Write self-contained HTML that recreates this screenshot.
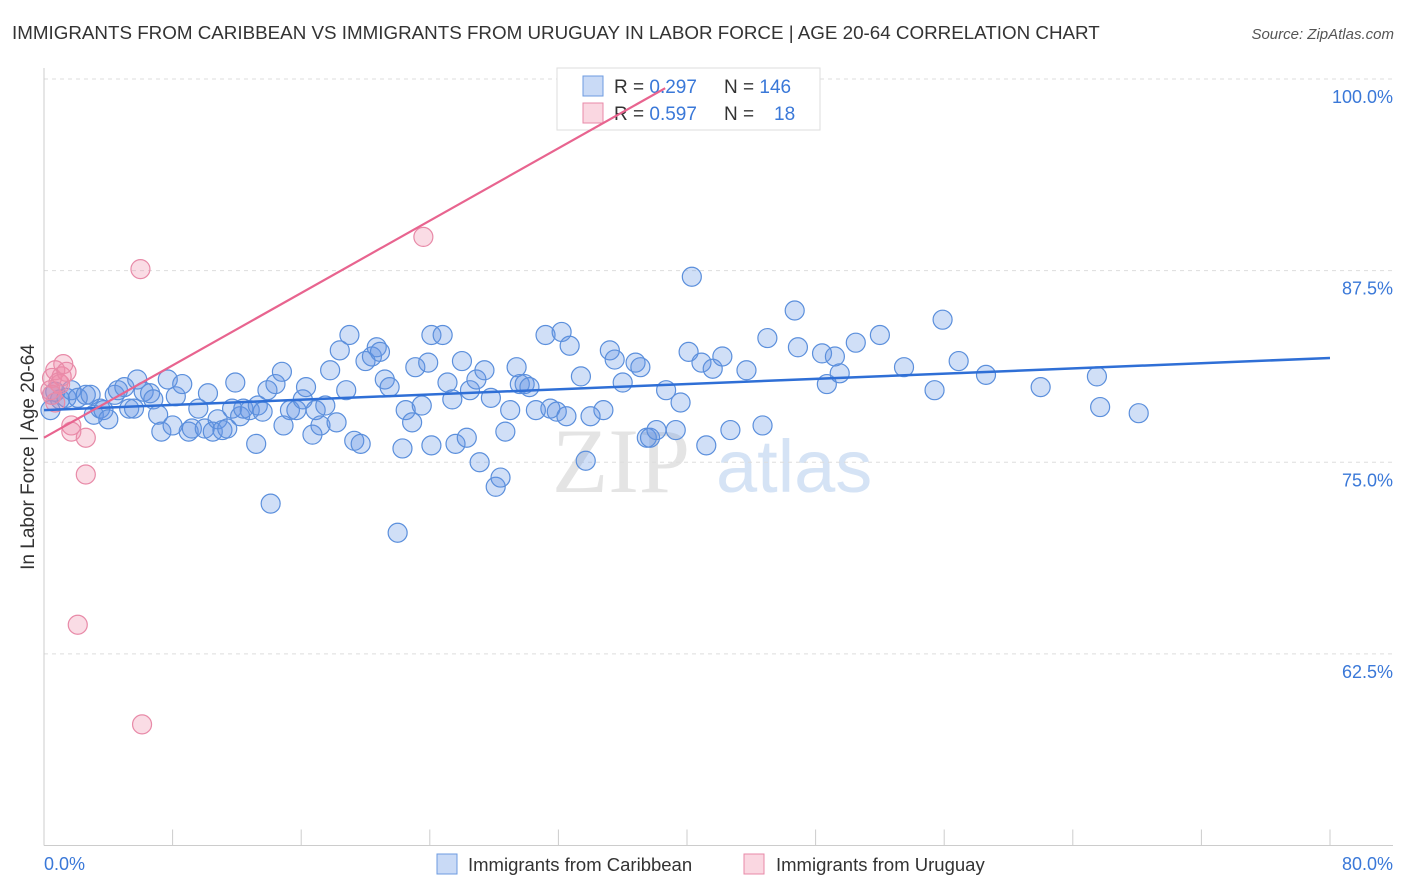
<!DOCTYPE html>
<html><head><meta charset="utf-8">
<style>
body{margin:0;background:#fff;font-family:"Liberation Sans",sans-serif;}
#wrap{position:relative;width:1406px;height:892px;overflow:hidden;}
</style></head>
<body>
<div id="wrap">
<svg id="svg" width="1406" height="892" xmlns="http://www.w3.org/2000/svg">
<text x="12" y="39" font-size="18.8" fill="#333">IMMIGRANTS FROM CARIBBEAN VS IMMIGRANTS FROM URUGUAY IN LABOR FORCE | AGE 20-64 CORRELATION CHART</text>
<text x="1394" y="39" font-size="15" fill="#555" font-style="italic" text-anchor="end">Source: ZipAtlas.com</text>
<g>
<text x="552" y="492" font-size="92" font-family="Liberation Serif,serif" fill="#e4e4e4">ZIP</text>
<text x="716" y="492" font-size="74" fill="#d5e3f5">atlas</text>
</g>
<g id="grid"></g>
<g id="axes"></g>
<g>
<rect x="557" y="68" width="263" height="62" fill="#fff" stroke="#ddd"/>
<rect x="583" y="76" width="20" height="20" fill="rgba(100,150,230,0.35)" stroke="#6d9be0"/>
<rect x="583" y="103" width="20" height="20" fill="rgba(240,140,170,0.35)" stroke="#e88aa8"/>
<text x="614" y="93" font-size="19" fill="#333">R = <tspan fill="#3a78d8">0.297</tspan></text>
<text x="724" y="93" font-size="19" fill="#333">N = <tspan fill="#3a78d8">146</tspan></text>
<text x="614" y="120" font-size="19" fill="#333">R = <tspan fill="#3a78d8">0.597</tspan></text>
<text x="724" y="120" font-size="19" fill="#333">N = <tspan x="774" fill="#3a78d8">18</tspan></text>
</g>
<g id="blue"></g>
<g id="pink"></g>
<g id="trends"></g>
<text transform="translate(34,457) rotate(-90)" font-size="19" fill="#333" text-anchor="middle">In Labor Force | Age 20-64</text>
<g>
<rect x="437" y="854" width="20" height="20" fill="rgba(100,150,230,0.35)" stroke="#6d9be0"/>
<text x="468" y="871" font-size="18.5" fill="#333">Immigrants from Caribbean</text>
<rect x="744" y="854" width="20" height="20" fill="rgba(240,140,170,0.35)" stroke="#e88aa8"/>
<text x="776" y="871" font-size="18.5" fill="#333">Immigrants from Uruguay</text>
</g>
</svg>
</div>
<script>
const blueX=[0.4,0.5,0.7,1.0,1.4,1.7,2.1,2.6,2.9,3.1,3.5,3.7,4.0,4.4,4.6,5.0,5.3,5.6,5.8,6.2,6.6,6.8,7.1,7.3,7.7,8.0,8.2,8.6,9.0,9.2,9.6,10.0,10.2,10.5,10.8,11.1,11.4,11.7,11.9,12.2,12.4,12.8,13.2,13.3,13.6,13.9,14.1,14.4,14.8,14.9,15.3,15.7,16.1,16.3,16.7,16.9,17.2,17.5,17.8,18.2,18.4,18.8,19.0,19.3,19.7,20.0,20.4,20.7,20.9,21.2,21.5,22.0,22.3,22.5,22.9,23.1,23.5,23.9,24.1,24.1,24.8,25.1,25.4,25.6,26.0,26.3,26.5,26.9,27.1,27.4,27.8,28.1,28.4,28.7,29.0,29.4,29.6,29.9,30.2,30.6,31.2,31.5,31.9,32.2,32.5,32.7,33.4,33.7,34.0,34.8,35.2,35.5,36.0,36.8,37.1,37.5,37.7,38.1,38.7,39.3,39.6,40.1,40.3,40.9,41.2,41.6,42.2,42.7,43.7,44.7,45.0,46.7,46.9,48.4,48.7,49.2,49.5,50.5,52.0,53.5,55.4,55.9,56.9,58.6,62.0,65.5,65.7,68.1];
const blueY=[78.4,79.4,79.6,79.1,79.2,79.7,79.2,79.4,79.4,78.1,78.5,78.4,77.8,79.4,79.7,79.9,78.5,78.5,80.4,79.6,79.5,79.1,78.1,77.0,80.4,77.4,79.3,80.1,77.0,77.2,78.5,77.2,79.5,77.0,77.8,77.1,77.2,78.5,80.2,78.0,78.5,78.4,76.2,78.7,78.3,79.7,72.3,80.1,80.9,77.4,78.4,78.4,79.1,79.9,76.8,78.4,77.4,78.7,81.0,77.6,82.3,79.7,83.3,76.4,76.2,81.6,81.9,82.5,82.2,80.4,79.9,70.4,75.9,78.4,77.6,81.2,78.7,81.5,83.3,76.1,83.3,80.2,79.1,76.2,81.6,76.6,79.7,80.4,75.0,81.0,79.2,73.4,74.0,77.0,78.4,81.2,80.1,80.1,79.9,78.4,83.3,78.5,78.3,83.5,78.0,82.6,80.6,75.1,78.0,78.4,82.3,81.7,80.2,81.5,81.2,76.6,76.6,77.1,79.7,77.1,78.9,82.2,87.1,81.5,76.1,81.1,81.9,77.1,81.0,77.4,83.1,84.9,82.5,82.1,80.1,81.9,80.8,82.8,83.3,81.2,79.7,84.3,81.6,80.7,79.9,80.6,78.6,78.2];
const pinkX=[0.5,0.7,0.9,1.0,1.1,1.2,1.4,1.7,1.7,2.1,2.6,2.6,6.0,6.1,23.6,0.5,0.4,0.7];
const pinkY=[80.5,81.0,80.2,80.1,80.6,81.4,80.9,77.4,77.0,64.4,76.6,74.2,87.6,57.9,89.7,79.4,79.7,78.9];
// trend line [intercept, slope]
const blueTrend=[78.4,0.0425];
const pinkTrend=[76.6,0.59];
const yTicks=[100,87.5,75,62.5];
const yTickLabels=["100.0%","87.5%","75.0%","62.5%"];
const xTicks=[0,8,16,24,32,40,48,56,64,72,80];
const xEndLabels=["0.0%","80.0%"];

const NS="http://www.w3.org/2000/svg";
const X0=44,X1=1330,XMAX=80,YTOP=79,YPX=15.33,YMIN=50,YCLIP=99.4;
function sx(v){return X0+v*(X1-X0)/XMAX;}
function sy(v){return YTOP+(100-v)*YPX;}
function mk(tag,attrs,parent){const e=document.createElementNS(NS,tag);for(const k in attrs)e.setAttribute(k,attrs[k]);parent.appendChild(e);return e;}

const grid=document.getElementById('grid');
yTicks.forEach((t,i)=>{
  const l=mk('line',{x1:X0,x2:1393,y1:sy(t),y2:sy(t),stroke:'#ddd','stroke-dasharray':'4,4'},grid);
  
  
  const tx=mk('text',{x:1393,y:sy(t)+24,'font-size':18,fill:'#3a78d8','text-anchor':'end'},grid);
  tx.textContent=yTickLabels[i];
  
  
});
const axes=document.getElementById('axes');
const ya=mk('line',{x1:X0,x2:X0,y1:68,y2:sy(YMIN),stroke:'#ccc'},axes);


const xa=mk('line',{x1:X0,x2:1393,y1:sy(YMIN),y2:sy(YMIN),stroke:'#ccc'},axes);


xTicks.forEach(t=>{
  const tk=mk('line',{x1:sx(t),x2:sx(t),y1:sy(YMIN),y2:sy(YMIN)-16,stroke:'#ccc'},axes);
  
  
});
const xl0=mk('text',{x:44,y:870,'font-size':18,fill:'#3a78d8'},axes);
xl0.textContent=xEndLabels[0];


const xl1=mk('text',{x:1393,y:870,'font-size':18,fill:'#3a78d8','text-anchor':'end'},axes);
xl1.textContent=xEndLabels[1];



function drawPts(g,xs,ys,fill,stroke,name){
  xs.forEach((x,i)=>{
    const c=mk('circle',{cx:sx(x),cy:sy(ys[i]),r:9.5,fill:fill,stroke:stroke,'stroke-width':1.2},g);
    
    
  });
}
drawPts(document.getElementById('blue'),blueX,blueY,'rgba(100,150,230,0.3)','#5b8fdc','caribbean-point');
drawPts(document.getElementById('pink'),pinkX,pinkY,'rgba(240,140,170,0.3)','#e88aa8','uruguay-point');

const trends=document.getElementById('trends');
const bl=mk('line',{x1:sx(0),y1:sy(blueTrend[0]),x2:sx(XMAX),y2:sy(blueTrend[0]+blueTrend[1]*XMAX),stroke:'#2f6fd6','stroke-width':2.5},trends);


const xe=Math.min(XMAX,(YCLIP-pinkTrend[0])/pinkTrend[1]);
const pl=mk('line',{x1:sx(0),y1:sy(pinkTrend[0]),x2:sx(xe),y2:sy(pinkTrend[0]+pinkTrend[1]*xe),stroke:'#e8648f','stroke-width':2.2},trends);


</script>
</body></html>
